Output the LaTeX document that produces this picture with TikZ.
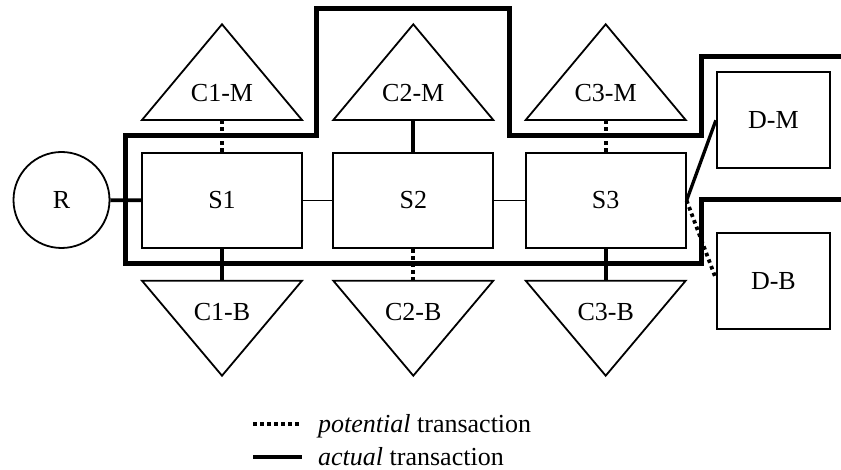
\documentclass[tikz,border=0pt]{standalone}
\usepackage{fontspec}
\setmainfont{Liberation Serif}
\begin{document}
\begin{tikzpicture}[x=1pt,y=-1pt,
  every node/.style={font=\fontsize{26}{30}\selectfont},
  box/.style={draw,line width=1.8pt,inner sep=0pt},
  tri/.style={draw,line width=1.8pt,line join=miter},
  thin/.style={line width=1.8pt},
  act/.style={line width=3.8pt},
  pot/.style={line width=3.8pt,dash pattern=on 3.5pt off 3.5pt},
  route/.style={line width=5pt,line join=miter}]
\useasboundingbox (0,0) rectangle (841,470);
% main nodes
\node[box,circle,minimum size=96pt] (R) at (61.5,200) {R};
\node[box,minimum width=160pt,minimum height=95.6pt] (S1) at (222,200.5) {S1};
\node[box,minimum width=160pt,minimum height=95.6pt] (S2) at (413.3,200.5) {S2};
\node[box,minimum width=160pt,minimum height=95.6pt] (S3) at (605.7,200.5) {S3};
\node[box,minimum width=113.3pt,minimum height=96pt] (DM) at (773.4,120.3) {D-M};
\node[box,minimum width=113.3pt,minimum height=96pt] (DB) at (773.4,280.7) {D-B};
% triangles (top)
\foreach \n/\x/\t in {C1M/222/C1-M,C2M/413.3/C2-M,C3M/605.7/C3-M}{
  \draw[tri] (\x-80,120) -- (\x,24.3) -- (\x+80,120) -- cycle;
  \coordinate (\n) at (\x,120);
  \node[inner sep=0pt] (\n-l) at (\x,93.3) {\t};
}
% triangles (bottom)
\foreach \n/\x/\t in {C1B/222/C1-B,C2B/413.3/C2-B,C3B/605.7/C3-B}{
  \draw[tri] (\x-80,280.7) -- (\x+80,280.7) -- (\x,375.7) -- cycle;
  \coordinate (\n) at (\x,280.7);
  \node[inner sep=0pt] (\n-l) at (\x,311.7) {\t};
}
% connectors
\draw[act] (R) -- (S1);
\draw[thin] (S1) -- (S2);
\draw[thin] (S2) -- (S3);
\draw[pot] (S1.north) -- (C1M);
\draw[act] (S2.north) -- (C2M);
\draw[pot] (S3.north) -- (C3M);
\draw[act] (S1.south) -- (C1B);
\draw[pot] (S2.south) -- (C2B);
\draw[act] (S3.south) -- (C3B);
\draw[line width=3.3pt] (S3.east) -- (DM.west);
\draw[pot] (S3.east) -- ([yshift=2pt]DB.west);
% transaction route
\draw[route] (841,200) -- (701.7,200) -- (701.7,263.3) -- (125,263.3) -- (125,136)
  -- (316.7,136) -- (316.7,8.3) -- (509.3,8.3) -- (509.3,136) -- (701.7,136)
  -- (701.7,56.7) -- (841,56.7);
% legend
\coordinate (lp1) at (253,424); \coordinate (lp2) at (302,424);
\coordinate (la1) at (253,456.7); \coordinate (la2) at (302,456.7);
\draw[pot] (lp1) -- (lp2);
\draw[act] (la1) -- (la2);
\node[anchor=base west,inner sep=0pt] (lpt) at (318,432.5) {\textit{potential} transaction};
\node[anchor=base west,inner sep=0pt] (lat) at (318,465.5) {\textit{actual} transaction};
\end{tikzpicture}
\end{document}
